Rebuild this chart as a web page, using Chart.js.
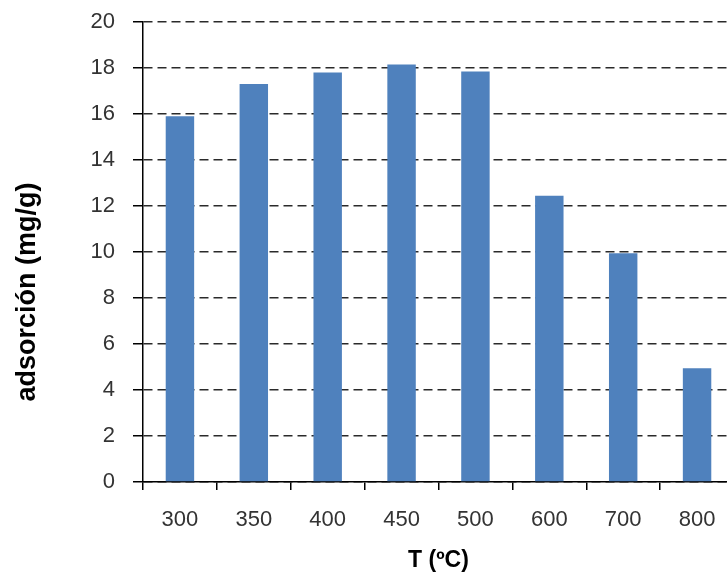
<!DOCTYPE html>
<html>
<head>
<meta charset="utf-8">
<script src="https://cdn.jsdelivr.net/npm/chart.js@4/dist/chart.umd.min.js"></script>
<style>
  html, body { margin: 0; padding: 0; background: #fff; overflow: hidden; }
  #wrap { width: 727px; height: 574px; overflow: hidden; }
  canvas { display: block; }
</style>
</head>
<body>
<div id="wrap"><canvas id="adsorcion-chart" width="734" height="574"></canvas></div>
<script>
// Temperatures (x categories) and measured adsorption values
const temperatures = ['300', '350', '400', '450', '500', '600', '700', '800'];
const adsorption = [15.9, 17.3, 17.8, 18.15, 17.85, 12.45, 9.95, 4.95];
const yTicks = [0, 2, 4, 6, 8, 10, 12, 14, 16, 18, 20];
const xTitle = 'T (ºC)';
const yTitle = 'adsorción (mg/g)';

const fontFamily = "'Liberation Sans', Arial, sans-serif";

// Rotated y title, drawn a bit lower than the plot center like the original
const yTitlePlugin = {
    id: 'yTitle',
    afterDraw(chart) {
        const ctx = chart.ctx;
        ctx.save();
        ctx.translate(28, 292);
        ctx.rotate(-Math.PI / 2);
        ctx.font = 'bold 27px ' + fontFamily;
        ctx.fillStyle = '#000';
        ctx.textAlign = 'center';
        ctx.textBaseline = 'middle';
        ctx.fillText(yTitle, 0, 0);
        ctx.restore();
    }
};

const ctx = document.getElementById('adsorcion-chart').getContext('2d');
const chart = new Chart(ctx, {
    type: 'bar',
    data: {
        labels: temperatures,
        datasets: [{
            label: yTitle,
            data: adsorption,
            backgroundColor: '#4f81bd',
            borderWidth: 0,
            categoryPercentage: 1,
            barPercentage: 0.385
        }]
    },
    options: {
        responsive: false,
        animation: false,
        devicePixelRatio: 1,
        layout: { padding: { top: 22, left: 0, right: 0, bottom: 0 } },
        plugins: {
            legend: { display: false },
            tooltip: { enabled: false }
        },
        scales: {
            x: {
                offset: true,
                grid: {
                    offset: true,
                    drawOnChartArea: false,
                    drawTicks: true,
                    tickLength: 8,
                    color: '#000',
                    lineWidth: 1.5
                },
                border: { display: true, color: '#000', width: 1.5 },
                ticks: {
                    color: '#333',
                    padding: 17,
                    font: { family: fontFamily, size: 22 }
                },
                title: {
                    display: true,
                    text: xTitle,
                    color: '#000',
                    padding: { top: 0, bottom: 0 },
                    font: { family: fontFamily, size: 23, weight: 'bold' }
                },
                afterFit(scale) { scale.height = 92; }
            },
            y: {
                min: 0,
                max: 20,
                afterBuildTicks(scale) {
                    scale.ticks = yTicks.map(v => ({ value: v }));
                },
                grid: {
                    color: '#2a2a2a',
                    lineWidth: 1.5,
                    tickLength: 10,
                    tickColor: '#000',
                    tickBorderDash: [100, 0]
                },
                border: { display: true, color: '#000', width: 1.5, dash: [9, 5] },
                ticks: {
                    color: '#333',
                    padding: 18,
                    font: { family: fontFamily, size: 22 }
                },
                afterFit(scale) {
                    scale.width = 143;
                    scale.paddingTop = 0;
                    scale.paddingBottom = 0;
                }
            }
        }
    },
    plugins: [yTitlePlugin]
});
</script>
</body>
</html>
